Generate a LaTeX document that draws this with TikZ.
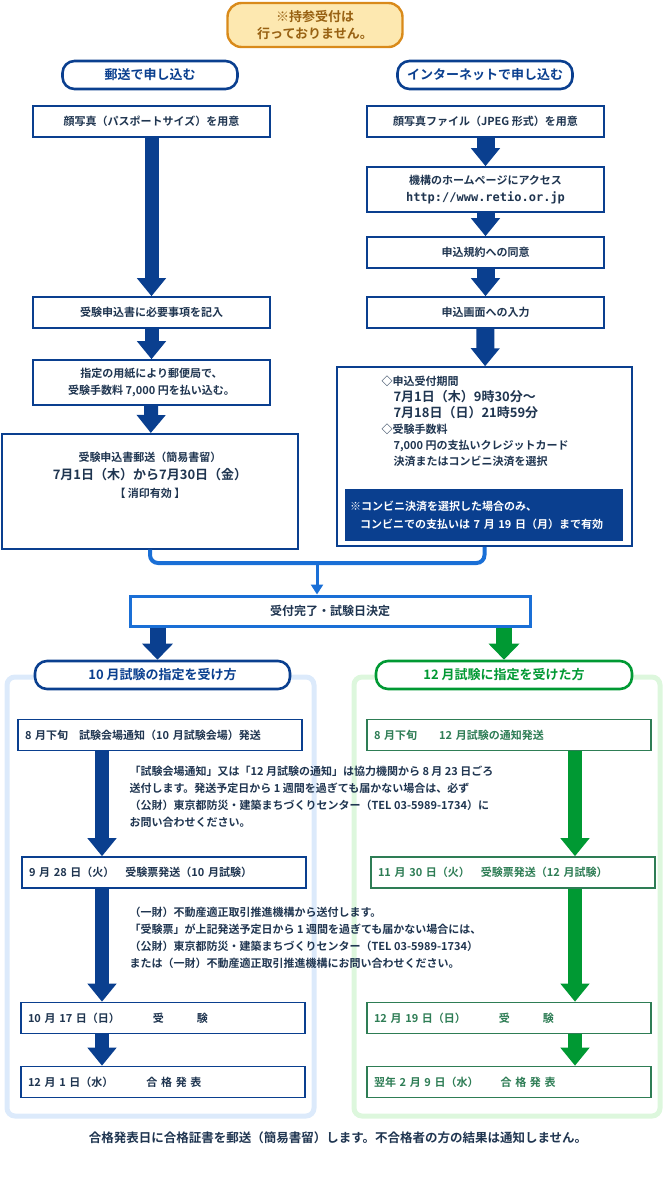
\documentclass[tikz,border=0pt]{standalone}
\usepackage{fontspec}
\setmainfont{Noto Sans CJK JP}[BoldFont={Noto Sans CJK JP Bold}]
\newfontfamily\monofnt{DejaVu Sans Mono}
\usetikzlibrary{arrows.meta,positioning}
\definecolor{navy}{HTML}{0A3F8F}
\definecolor{midblue}{HTML}{1A6FD6}
\definecolor{grn}{HTML}{009933}
\definecolor{grnline}{HTML}{2E7D55}
\definecolor{txt}{HTML}{1F3550}
\definecolor{paleblue}{HTML}{DCEAFB}
\definecolor{palegreen}{HTML}{DDF7DD}
\definecolor{badgefill}{HTML}{FDE8B0}
\definecolor{badgeline}{HTML}{D98A1A}
\tikzset{
  stepbox/.style={draw=navy,line width=1.6pt,fill=white,text=txt,font=\bfseries\fontsize{11}{17}\selectfont,align=center},
  gstepbox/.style={stepbox,draw=grnline,text=grnline},
  pill/.style={draw=navy,line width=2.6pt,rounded corners=12pt,fill=white,text=navy,minimum height=28pt,font=\bfseries\fontsize{13}{15}\selectfont},
  gpill/.style={pill,draw=grn,text=grn},
  bigarrow/.style={line width=14pt,draw=navy,-{Triangle[width=28pt,length=18pt]}},
  note/.style={anchor=north west,text=txt,align=left,font=\bfseries\fontsize{11}{17}\selectfont},
}
\begin{document}
\begin{tikzpicture}[x=1pt,y=-1pt]
\useasboundingbox (0,0) rectangle (665,1192);
% frames
\draw[paleblue,line width=5pt,rounded corners=8pt] (7,677) rectangle (314,1116);
\draw[palegreen,line width=5pt,rounded corners=8pt] (354,677) rectangle (660,1116);
% badge
\node[draw=badgeline,line width=2.4pt,fill=badgefill,rounded corners=14pt,minimum width=175pt,minimum height=44pt,align=center,text=badgeline!70!black,font=\bfseries\fontsize{13}{17}\selectfont] (badge) at (315,25) {※持参受付は\\行っておりません。};
% headers
\node[pill,minimum width=175pt] (mailhead) at (150,75) {郵送で申し込む};
\node[pill,minimum width=175pt] (nethead) at (485,75) {インターネットで申し込む};
% mail column
\node[stepbox,minimum width=237pt,minimum height=31pt] (photo) at (151.5,121.5) {顔写真（パスポートサイズ）を用意};
\node[stepbox,minimum width=237pt,minimum height=31pt] (fill) at (151.5,312.5) {受験申込書に必要事項を記入};
\node[stepbox,minimum width=237pt,minimum height=45pt] (pay) at (151.5,382.5) {指定の用紙により郵便局で、\\受験手数料 7,000 円を払い込む。};
\node[stepbox,minimum width=296pt,minimum height=115pt,anchor=north] (post) at (150,433) {};
\node[text=txt,align=center,font=\bfseries\fontsize{11}{18}\selectfont,anchor=north] at (150,448) {受験申込書郵送（簡易書留）\\{\fontsize{13}{18}\selectfont 7月1日（木）から7月30日（金）}\\【 消印有効 】};
% internet column
\node[stepbox,minimum width=237pt,minimum height=31pt] (netphoto) at (485.5,121.5) {顔写真ファイル（JPEG 形式）を用意};
\node[stepbox,minimum width=237pt,minimum height=45pt] (access) at (485.5,189.5) {機構のホームページにアクセス\\{\monofnt\bfseries\fontsize{12}{17}\selectfont http://www.retio.or.jp}};
\node[stepbox,minimum width=237pt,minimum height=31pt] (agree) at (485.5,252.5) {申込規約への同意};
\node[stepbox,minimum width=237pt,minimum height=31pt] (input) at (485.5,312.5) {申込画面への入力};
\node[stepbox,minimum width=295pt,minimum height=179pt] (netinfo) at (484.5,456.5) {};
\node[note,font=\bfseries\fontsize{11}{17}\selectfont] at (378,372) {◇申込受付期間\\[-1pt]
\hspace*{12pt}{\fontsize{13}{18}\selectfont 7月1日（木）9時30分〜}\\[-1pt]
\hspace*{12pt}{\fontsize{13}{18}\selectfont 7月18日（日）21時59分}\\[-1pt]
◇受験手数料\\[-1pt]
\hspace*{12pt}7,000 円の支払いクレジットカード\\[-1pt]
\hspace*{12pt}決済またはコンビニ決済を選択};
\node[fill=navy,text=white,minimum width=278pt,minimum height=52pt,text width=268pt,align=left,font=\bfseries\fontsize{11}{18}\selectfont] (conv) at (484,515) {※コンビニ決済を選択した場合のみ、\\\hspace*{10pt}コンビニでの支払いは 7 月 19 日（月）まで有効};
% upper arrows
\draw[bigarrow] (photo) -- (fill);
\draw[bigarrow] (fill) -- (pay);
\draw[bigarrow] (pay) -- (post);
\draw[bigarrow,line width=18pt] (netphoto) -- (access);
\draw[bigarrow,line width=18pt] (access) -- (agree);
\draw[bigarrow,line width=18pt] (agree) -- (input);
\draw[bigarrow,line width=18pt] (input) -- (netinfo);
% merge
\node[draw=midblue,line width=3pt,fill=white,minimum width=400pt,minimum height=30pt,text=txt,font=\bfseries\fontsize{12}{14}\selectfont] (done) at (330,611) {受付完了・試験日決定};
\coordinate (join) at (317,563);
\draw[midblue,line width=4pt,rounded corners=8pt] (post.south) |- (join) -| (netinfo.south);
\draw[midblue,line width=3pt,-{Triangle[width=12pt,length=10pt]}] (join) -- (done.north -| join);
% lower headers
\node[pill,minimum width=255pt] (octhead) at (162.5,675) {10 月試験の指定を受け方};
\node[gpill,minimum width=256pt] (dechead) at (504,675) {12 月試験に指定を受けた方};
\draw[bigarrow,line width=16pt,-{Triangle[width=30pt,length=16pt]}] (done.south -| octhead.north) ++(-5,0) coordinate (oa) -- (oa |- octhead.north);
\draw[bigarrow,draw=grn,line width=16pt,-{Triangle[width=30pt,length=16pt]}] (done.south -| dechead.north) coordinate (da) -- (da |- dechead.north);
% october
\tikzset{lowbox/.style={stepbox,minimum width=284pt,minimum height=31pt,text width=270pt,align=left}}
\node[lowbox] (oct1) at (160,735) {8 月下旬\quad 試験会場通知（10 月試験会場）発送};
\node[lowbox] (oct2) at (164,872.5) {9 月 28 日（火）\quad 受験票発送（10 月試験）};
\node[lowbox] (oct3) at (163,1018) {10 月 17 日（日）\qquad\quad 受\qquad\quad 験};
\node[lowbox] (oct4) at (163,1082) {12 月 1 日（水）\qquad\quad 合 格 発 表};
% december
\tikzset{glowbox/.style={gstepbox,minimum width=284pt,minimum height=31pt,text width=270pt,align=left}}
\node[glowbox] (dec1) at (509,735) {8 月下旬\qquad 12 月試験の通知発送};
\node[glowbox] (dec2) at (513,872.5) {11 月 30 日（火）\quad 受験票発送（12 月試験）};
\node[glowbox] (dec3) at (509,1018) {12 月 19 日（日）\qquad\quad 受\qquad\quad 験};
\node[glowbox] (dec4) at (509,1082) {翌年 2 月 9 日（水）\qquad 合 格 発 表};
% arrows
\coordinate (ox) at (102,0);
\coordinate (dx) at (575,0);
\draw[bigarrow] (oct1.south -| ox) -- (oct2.north -| ox);
\draw[bigarrow] (oct2.south -| ox) -- (oct3.north -| ox);
\draw[bigarrow] (oct3.south -| ox) -- (oct4.north -| ox);
\draw[bigarrow,draw=grn] (dec1.south -| dx) -- (dec2.north -| dx);
\draw[bigarrow,draw=grn] (dec2.south -| dx) -- (dec3.north -| dx);
\draw[bigarrow,draw=grn] (dec3.south -| dx) -- (dec4.north -| dx);
% notes
\node[note] (note1) at (126,762) {「試験会場通知」又は「12 月試験の通知」は協力機関から 8 月 23 日ごろ\\送付します。発送予定日から 1 週間を過ぎても届かない場合は、必ず\\（公財）東京都防災・建築まちづくりセンター（TEL 03-5989-1734）に\\お問い合わせください。};
\node[note] (note2) at (126,903) {（一財）不動産適正取引推進機構から送付します。\\「受験票」が上記発送予定日から 1 週間を過ぎても届かない場合には、\\（公財）東京都防災・建築まちづくりセンター（TEL 03-5989-1734）\\または（一財）不動産適正取引推進機構にお問い合わせください。};
\node[text=txt,font=\bfseries\fontsize{12.5}{14}\selectfont] (foot) at (338,1138) {合格発表日に合格証書を郵送（簡易書留）します。不合格者の方の結果は通知しません。};
\end{tikzpicture}
\end{document}
